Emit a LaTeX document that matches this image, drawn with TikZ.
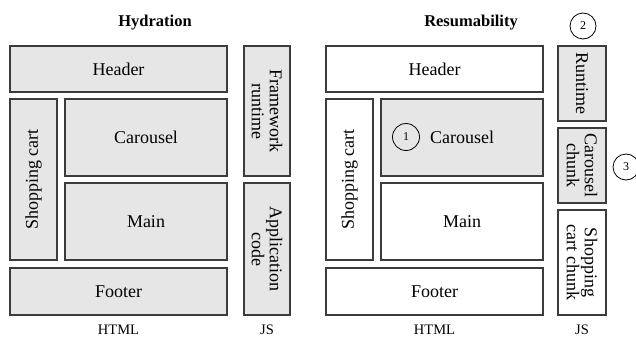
\documentclass[tikz,border=0pt]{standalone}
\usepackage{fontspec}
\setmainfont{Liberation Serif}
\usepackage{tikz}
\usetikzlibrary{positioning}
\definecolor{boxfill}{RGB}{230,230,230}
\definecolor{boxline}{RGB}{60,60,60}

\tikzset{
  part/.style={draw=boxline,line width=1.2pt,minimum width=#1,inner sep=0pt,
    font=\fontsize{18}{18}\selectfont,align=center},
  part/.default=46pt,
  gray/.style={fill=boxfill},
  vert/.style={rotate=-90},
  upward/.style={rotate=90},
  caption/.style={font=\fontsize{14.5}{16}\selectfont},
  heading/.style={font=\fontsize{16.5}{18}\selectfont\bfseries},
  step marker/.style={draw=black,line width=0.8pt,circle,minimum size=27pt,inner sep=0pt,
    font=\fontsize{12}{12}\selectfont}
}

\begin{document}
\begin{tikzpicture}[x=1pt,y=-1pt]
  \useasboundingbox (0,0) rectangle (636,337);
  % hydration: everything is shipped
  \node[heading] (htitle) at (155,23) {Hydration};
  \node[part=217pt,gray,minimum height=46pt] (hheader) at (118.5,69) {Header};
  \node[part=161pt,gray,minimum height=47pt,upward] (hcart) at (33.5,179.5) {Shopping cart};
  \node[part=162pt,gray,minimum height=77pt] (hcarousel) at (146,137.5) {Carousel};
  \node[part=162pt,gray,minimum height=77pt] (hmain) at (146,221.5) {Main};
  \node[part=217pt,gray,minimum height=47pt] (hfooter) at (118.5,291.5) {Footer};
  \node[part=130pt,gray,minimum height=46pt,vert] (hruntime) at (267,111) {Framework\\runtime};
  \node[part=132pt,gray,minimum height=46pt,vert] (happ) at (267,249) {Application\\code};
  \node[caption] (hhtml) at (118.5,330) {HTML};
  \node[caption] (hjs) at (267,330) {JS};

  % resumability: only what is used
  \node[heading] (rtitle) at (471,23) {Resumability};
  \node[part=217pt,minimum height=46pt] (rheader) at (434.5,69) {Header};
  \node[part=161pt,minimum height=47pt,upward] (rcart) at (349.5,179.5) {Shopping cart};
  \node[part=162pt,gray,minimum height=77pt] (rcarousel) at (462,137.5) {Carousel};
  \node[part=162pt,minimum height=77pt] (rmain) at (462,221.5) {Main};
  \node[part=217pt,minimum height=47pt] (rfooter) at (434.5,291.5) {Footer};
  \node[part=75pt,gray,minimum height=48pt,vert] (rruntime) at (582,83.5) {Runtime};
  \node[part=75pt,gray,minimum height=48pt,vert] (rchunk) at (582,165.5) {Carousel\\chunk};
  \node[part=105pt,minimum height=48pt,vert] (rcartchunk) at (582,262.5) {Shopping\\cart chunk};
  \node[caption] (rhtml) at (434.5,330) {HTML};
  \node[caption] (rjs) at (582,330) {JS};

  % numbered steps
  \node[step marker] (one) at (406,137) {1};
  \node[step marker,minimum size=26pt] (two) at (583,26) {2};
  \node[step marker,minimum size=26pt] (three) at (626,167) {3};
\end{tikzpicture}
\end{document}
